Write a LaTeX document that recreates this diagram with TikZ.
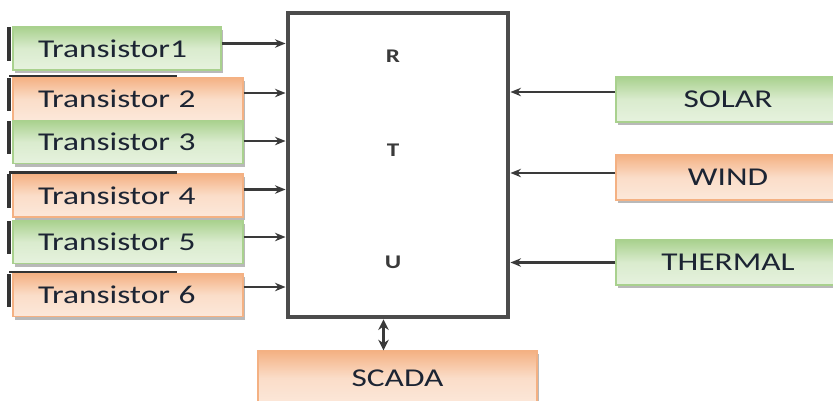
\documentclass[tikz,border=0pt]{standalone}
\usepackage{fontspec}
\setmainfont{Carlito}
\newfontfamily\boxfont[FakeStretch=1.3]{Carlito}
\usetikzlibrary{arrows.meta,positioning,shadows}
\definecolor{LeafDark}{HTML}{A9D18E}
\definecolor{LeafLight}{HTML}{E6F2DE}
\definecolor{PeachDark}{HTML}{F4B183}
\definecolor{PeachLight}{HTML}{FCE8DA}
\definecolor{Ink}{HTML}{1C2433}
\definecolor{Wire}{HTML}{3A3A3A}

\begin{document}
\begin{tikzpicture}[
  unit/.style={draw=gray!50,line width=0.4pt,minimum height=0.43cm,inner xsep=0.25cm,
    text=Ink,font=\boxfont\fontsize{7.3}{9}\selectfont,
    drop shadow={shadow xshift=0.02cm,shadow yshift=-0.03cm,fill=gray!55,opacity=1}},
  left unit/.style={unit,text width=1.80cm,align=left},
  green/.style={top color=LeafDark,bottom color=LeafLight,middle color=LeafLight!80!LeafDark,draw=LeafDark},
  peach/.style={top color=PeachDark,bottom color=PeachLight,middle color=PeachLight!80!PeachDark,draw=PeachDark},
  source/.style={unit,minimum width=2.24cm,minimum height=0.45cm},
  letter/.style={text=Wire,font=\boxfont\bfseries\fontsize{5.5}{6}\selectfont},
  wire/.style={draw=Wire,line width=0.6pt,-{Stealth[length=3pt,width=2.4pt]}},
  bar/.style={draw=gray!40!black,line width=1.2pt}
]
  \path[use as bounding box] (0,0) rectangle (8.33,4.00);

  % remote terminal unit
  \node[draw=gray!60!black,line width=1.4pt,minimum width=2.20cm,minimum height=3.04cm]
    (rtu) at (3.98,2.35) {};
  \node[letter] (lr) at (3.93,3.44) {R};
  \node[letter] (lt) at (3.93,2.50) {T};
  \node[letter] (lu) at (3.93,1.38) {U};

  % transistors
  \node[left unit,green,text width=1.58cm] (t1) at (1.17,3.515) {Transistor1};
  \node[left unit,peach] (t2) at (1.28,3.01) {Transistor 2};
  \node[left unit,green] (t3) at (1.28,2.58) {Transistor 3};
  \node[left unit,peach] (t4) at (1.28,2.045) {Transistor 4};
  \node[left unit,green] (t5) at (1.28,1.58) {Transistor 5};
  \node[left unit,peach] (t6) at (1.28,1.05) {Transistor 6};

  \foreach \t in {t1,t2,t3,t4,t5,t6}
    \draw[bar] ([xshift=-0.03cm,yshift=-0.01cm]\t.north west) -- ([xshift=-0.03cm,yshift=0.10cm]\t.south west);
  \foreach \t in {t2,t4,t6}
    \draw[draw=gray!40!black,line width=0.7pt] ([xshift=-0.03cm,yshift=0.01cm]\t.north west) -- ([xshift=1.65cm,yshift=0.01cm]\t.north west);

  % sources
  \node[source,green] (solar) at (7.28,3.005) {SOLAR};
  \node[source,peach] (wind) at (7.28,2.225) {WIND};
  \node[source,green] (thermal) at (7.28,1.375) {THERMAL};

  % scada
  \node[unit,peach,minimum width=2.79cm,minimum height=0.54cm] (scada) at (3.975,0.22) {SCADA};

  % links
  \draw[wire] ([yshift=0.05cm]t1.east) -- ([yshift=0.05cm]t1.east -| rtu.west);
  \draw[wire] ([yshift=0.06cm]t2.east) -- ([yshift=0.06cm]t2.east -| rtu.west);
  \draw[wire] ([yshift=0.01cm]t3.east) -- ([yshift=0.01cm]t3.east -| rtu.west);
  \draw[wire] ([yshift=0.06cm]t4.east) -- ([yshift=0.06cm]t4.east -| rtu.west);
  \draw[wire] ([yshift=0.05cm]t5.east) -- ([yshift=0.05cm]t5.east -| rtu.west);
  \draw[wire] ([yshift=0.08cm]t6.east) -- ([yshift=0.08cm]t6.east -| rtu.west);

  \draw[wire] ([yshift=0.075cm]solar.west) -- ([yshift=0.075cm]solar.west -| rtu.east);
  \draw[wire] ([yshift=0.045cm]wind.west) -- ([yshift=0.045cm]wind.west -| rtu.east);
  \draw[wire] (thermal.west) -- (thermal.west -| rtu.east);

  \draw[wire,line width=1.1pt,{Stealth[length=3pt,width=3pt]}-{Stealth[length=3pt,width=3pt]}]
    ([xshift=-0.145cm]rtu.south) -- ([xshift=-0.145cm]rtu.south |- scada.north);
\end{tikzpicture}
\end{document}
